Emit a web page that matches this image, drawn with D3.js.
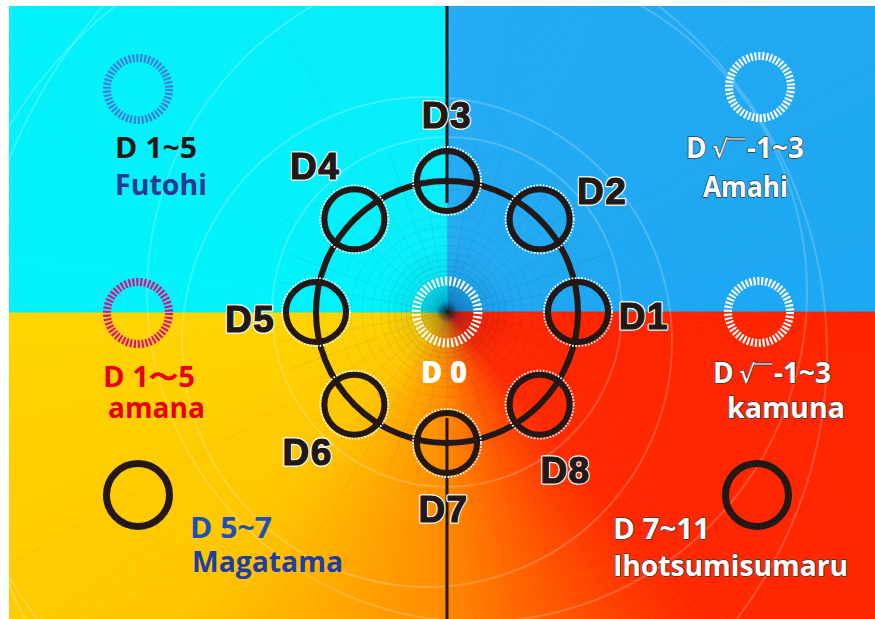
<!DOCTYPE html>
<html>
<head>
<meta charset="utf-8">
<script src="https://cdn.jsdelivr.net/npm/d3@7"></script>
<style>
  body { margin: 0; background: #fff; }
  svg { display: block; }
</style>
</head>
<body>
<div id="chart"></div>
<script>
// Ring nodes, angles counter-clockwise from the right (degrees)
const nodeLabels = ['D1', 'D2', 'D3', 'D4', 'D5', 'D6', 'D7', 'D8'];
const nodeAngles = [0, 45, 90, 135, 180, 225, 270, 315];
const labelAngles = [-1, 38, 90, 132, 182, 225, 269, 307];
const centerLabel = 'D 0';

// Corner legend texts
const legendTitles = ['D 1~5', 'D √-1~3', 'D 1〜5', 'D √-1~3', 'D 5~7', 'D 7~11'];
const legendNames = ['Futohi', 'Amahi', 'amana', 'kamuna', 'Magatama', 'Ihotsumisumaru'];

const W = 875, H = 619;
const cx = 447, cy = 312;
const ringR = 131, nodeR = 30, labelR = 197;
const ink = '#231815';
const legendFont = '"Open Sans", "Noto Sans", sans-serif';

// legend layout: ring centre, title [x, baseline, width], name [x, baseline, width]
const legendLayout = [
    { ring: [138, 89],  title: [115, 158, 82],  name: [115, 195, 92] },
    { ring: [760, 87],  title: [686, 158, 121], name: [703, 197, 85] },
    { ring: [138, 313], title: [103, 387, 92],  name: [108, 418, 97] },
    { ring: [759, 312], title: [713, 383, 126], name: [727, 418, 118] },
    { ring: [138, 495], title: [190, 538, 82],  name: [192, 572, 151] },
    { ring: [757, 495], title: [613, 539, 97],  name: [613, 576, 235] }
];
const legendStyle = [
    { ring: '#3f7fd6', dashes: 50, title: '#231815', name: '#2b3990', outline: null },
    { ring: '#ffffff', dashes: 50, title: '#ffffff', name: '#ffffff', outline: '#3a3a3a' },
    { ring: '#dc0f86', dashes: 50, title: '#e60012', name: '#e60012', outline: null },
    { ring: '#ffffff', dashes: 50, title: '#ffffff', name: '#ffffff', outline: '#3a3a3a' },
    { ring: ink,       dashes: 0,  title: '#1d50b8', name: '#1d3fa0', outline: null },
    { ring: ink,       dashes: 0,  title: '#ffffff', name: '#ffffff', outline: '#3a3a3a' }
];

// math angle (ccw from right) -> d3 radial angle (cw from top)
const angle = d3.scaleLinear().domain([0, 360]).range([Math.PI / 2, Math.PI / 2 - 2 * Math.PI]);
const polar = (deg, r) => {
    const p = d3.pointRadial(angle(deg), r);
    return [cx + p[0], cy + p[1]];
};

const svg = d3.select('#chart').append('svg')
    .attr('width', W)
    .attr('height', H);

const defs = svg.append('defs');
defs.append('clipPath').attr('id', 'panel')
    .append('rect')
    .attr('x', 9).attr('y', 6)
    .attr('width', 866).attr('height', 613);

const glow = defs.append('radialGradient')
    .attr('id', 'centreShade')
    .attr('gradientUnits', 'userSpaceOnUse')
    .attr('cx', cx).attr('cy', cy).attr('r', 220);
[[0, 'rgba(0,0,0,0.9)'], [0.02, 'rgba(10,20,50,0.6)'], [0.05, 'rgba(0,30,90,0.2)'],
 [0.15, 'rgba(0,30,90,0.06)'], [0.3, 'rgba(0,0,0,0)']].forEach(s => {
    glow.append('stop').attr('offset', s[0]).attr('stop-color', s[1]);
});

// Background: angular colour sweep (clockwise from 12 o'clock)
const sweep = d3.scaleLinear()
    .domain([0, 90, 90.01, 140, 182, 222, 270, 270.01, 360])
    .range(['#23abf3', '#1ea7f2', '#ff2400', '#ff2800', '#ff8c00', '#ffc600', '#ffd500', '#00f3fb', '#08edfa'])
    .interpolate(d3.interpolateRgb);

const bg = svg.append('g').attr('clip-path', 'url(#panel)');
const wedge = d3.arc().innerRadius(0).outerRadius(720);
bg.selectAll('path.wedge')
    .data(d3.range(0, 360, 1))
    .enter()
    .append('path')
    .attr('class', 'wedge')
    .attr('transform', `translate(${cx},${cy})`)
    .attr('d', a => wedge({ startAngle: a * Math.PI / 180, endAngle: (a + 1) * Math.PI / 180 }))
    .attr('fill', a => sweep(a + 0.5))
    .attr('stroke', a => sweep(a + 0.5))
    .attr('stroke-width', 0.8);

bg.append('rect')
    .attr('x', 0).attr('y', 0).attr('width', W).attr('height', H)
    .attr('fill', 'url(#centreShade)');

// Polar grid near the centre
const gridR = d3.range(0, 30).map(i => 4 * Math.pow(1.13, i));
bg.selectAll('circle.grid')
    .data(gridR)
    .enter()
    .append('circle')
    .attr('class', 'grid')
    .attr('cx', cx).attr('cy', cy)
    .attr('r', d => d)
    .attr('fill', 'none')
    .attr('stroke', '#002040')
    .attr('stroke-opacity', d => Math.max(0.05, 0.24 - d / 700))
    .attr('stroke-width', 0.6);

bg.selectAll('line.spoke')
    .data(d3.range(0, 360, 10))
    .enter()
    .append('line')
    .attr('class', 'spoke')
    .attr('x1', d => polar(d, 6)[0]).attr('y1', d => polar(d, 6)[1])
    .attr('x2', d => polar(d, d % 30 === 0 ? 700 : 170)[0])
    .attr('y2', d => polar(d, d % 30 === 0 ? 700 : 170)[1])
    .attr('stroke', '#002040')
    .attr('stroke-opacity', d => d % 30 === 0 ? 0.09 : 0.13)
    .attr('stroke-width', 0.6);

// faint white arcs further out
bg.selectAll('circle.halo')
    .data([[0, 0, 175], [-20, 30, 245], [30, -20, 330], [-60, 40, 440], [80, 60, 560]])
    .enter()
    .append('circle')
    .attr('class', 'halo')
    .attr('cx', d => cx + d[0]).attr('cy', d => cy + d[1])
    .attr('r', d => d[2])
    .attr('fill', 'none')
    .attr('stroke', '#ffffff')
    .attr('stroke-opacity', 0.2)
    .attr('stroke-width', 2);

// Vertical axis line (broken across the ring interior)
const axis = svg.append('g').attr('stroke', ink).attr('stroke-width', 3);
axis.append('line').attr('x1', cx).attr('x2', cx).attr('y1', 6).attr('y2', cy - ringR + 22);
axis.append('line').attr('x1', cx).attr('x2', cx).attr('y1', cy + ringR - 25).attr('y2', H);

// Centre dashed ring
const dashArray = (r, n, ratio) => {
    const p = 2 * Math.PI * r / n;
    return `${p * ratio} ${p * (1 - ratio)}`;
};
svg.append('circle')
    .attr('cx', cx).attr('cy', cy).attr('r', 31)
    .attr('fill', 'none')
    .attr('stroke', '#fff')
    .attr('stroke-width', 9)
    .attr('stroke-dasharray', dashArray(31, 46, 0.5));

// Main ring
svg.append('circle')
    .attr('cx', cx).attr('cy', cy).attr('r', ringR)
    .attr('fill', 'none')
    .attr('stroke', ink)
    .attr('stroke-width', 6);

// Nodes on the ring
const nodes = svg.append('g').selectAll('g')
    .data(nodeAngles)
    .enter()
    .append('g')
    .attr('transform', d => `translate(${polar(d, ringR)})`);

nodes.append('circle')
    .attr('r', nodeR + 4)
    .attr('fill', 'none')
    .attr('stroke', '#fff')
    .attr('stroke-width', 2)
    .attr('stroke-dasharray', '1.6 1.6');

nodes.append('circle')
    .attr('r', nodeR)
    .attr('fill', 'none')
    .attr('stroke', ink)
    .attr('stroke-width', 6);

// Node labels
const labels = svg.append('g')
    .attr('font-family', '"Liberation Sans", Arial, sans-serif')
    .attr('font-weight', 'bold')
    .attr('font-size', 37)
    .attr('text-anchor', 'middle')
    .attr('letter-spacing', 1.5);

labels.selectAll('text.outline')
    .data(nodeLabels)
    .enter()
    .append('text')
    .attr('class', 'outline')
    .attr('x', (d, i) => polar(labelAngles[i], labelR)[0])
    .attr('y', (d, i) => polar(labelAngles[i], labelR)[1])
    .attr('dy', '0.36em')
    .attr('fill', 'none')
    .attr('stroke', '#fff')
    .attr('stroke-width', 3.5)
    .attr('stroke-linejoin', 'round')
    .text(d => d);

labels.selectAll('text.fill')
    .data(nodeLabels)
    .enter()
    .append('text')
    .attr('class', 'fill')
    .attr('x', (d, i) => polar(labelAngles[i], labelR)[0])
    .attr('y', (d, i) => polar(labelAngles[i], labelR)[1])
    .attr('dy', '0.36em')
    .attr('fill', ink)
    .attr('stroke', ink)
    .attr('stroke-width', 1.2)
    .text(d => d);

svg.append('text')
    .attr('x', 444).attr('y', 383)
    .attr('text-anchor', 'middle')
    .attr('font-family', legendFont)
    .attr('font-weight', 800)
    .attr('font-size', 30)
    .attr('fill', '#fff')
    .attr('textLength', 46)
    .attr('lengthAdjust', 'spacingAndGlyphs')
    .text(centerLabel);

// Corner legend
const legend = svg.append('g');
legendTitles.forEach((title, i) => {
    const lay = legendLayout[i], st = legendStyle[i];
    legend.append('circle')
        .attr('cx', lay.ring[0]).attr('cy', lay.ring[1])
        .attr('r', st.dashes ? 31 : 31.5)
        .attr('fill', 'none')
        .attr('stroke', st.ring)
        .attr('stroke-width', st.dashes ? 8 : 7)
        .attr('stroke-dasharray', st.dashes ? dashArray(31, st.dashes, 0.55) : null);

    const styleText = sel => sel
        .attr('font-family', legendFont)
        .attr('font-weight', 'bold')
        .attr('font-size', 28)
        .attr('stroke', st.outline)
        .attr('stroke-width', st.outline ? 1.4 : 0)
        .attr('paint-order', 'stroke')
        .attr('stroke-linejoin', 'round');

    const t = legend.append('text')
        .attr('x', lay.title[0]).attr('y', lay.title[1])
        .attr('fill', st.title)
        .call(styleText);

    if (title.includes('√')) {
        const parts = title.split('√');
        t.append('tspan').text(parts[0].trim());
        t.append('tspan')
            .attr('x', lay.title[0] + 26)
            .attr('font-size', 26)
            .attr('font-weight', 'normal')
            .attr('font-family', '"DejaVu Sans", sans-serif')
            .text('√');
        t.append('tspan')
            .attr('x', lay.title[0] + 61)
            .text(parts[1]);
        const box = t.node().getExtentOfChar(1);
        const barY = box.y + 5;
        legend.append('line')
            .attr('x1', box.x + box.width - 1.5).attr('x2', lay.title[0] + 59)
            .attr('y1', barY).attr('y2', barY)
            .attr('stroke', st.outline || ink)
            .attr('stroke-width', 3);
        legend.append('line')
            .attr('x1', box.x + box.width - 1.5).attr('x2', lay.title[0] + 59)
            .attr('y1', barY).attr('y2', barY)
            .attr('stroke', st.title)
            .attr('stroke-width', 1.2);
    } else {
        t.attr('textLength', lay.title[2])
            .attr('lengthAdjust', 'spacingAndGlyphs')
            .text(title);
    }

    legend.append('text')
        .attr('x', lay.name[0]).attr('y', lay.name[1])
        .attr('fill', st.name)
        .attr('textLength', lay.name[2])
        .attr('lengthAdjust', 'spacingAndGlyphs')
        .call(styleText)
        .text(legendNames[i]);
});
</script>
</body>
</html>
